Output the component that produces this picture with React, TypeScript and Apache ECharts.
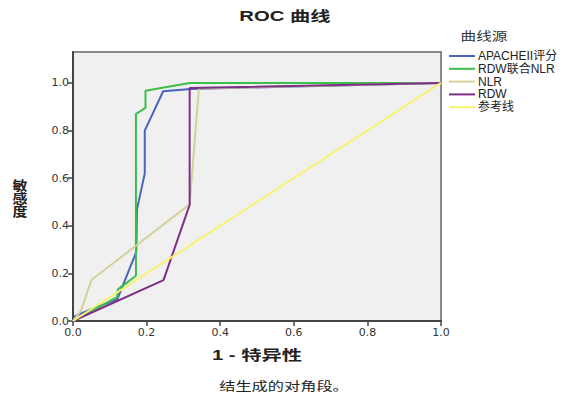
import React, { useEffect, useRef } from "react";
import * as echarts from "echarts";

const seriesNames = ["APACHEII评分", "RDW联合NLR", "NLR", "RDW", "参考线"];
const seriesColors = ["#4a64be", "#3cbf4a", "#d6d09a", "#7e2f86", "#f7f36c"];

const apacheX = [0, 0.005, 0.05, 0.12, 0.172, 0.174, 0.195, 0.195, 0.245, 0.32, 1];
const apacheY = [0, 0.02, 0.05, 0.09, 0.29, 0.47, 0.62, 0.8, 0.965, 0.975, 1];

const comboX = [0, 0.12, 0.122, 0.171, 0.171, 0.197, 0.197, 0.317, 1];
const comboY = [0, 0.1, 0.133, 0.19, 0.87, 0.895, 0.967, 1.0, 1];

const nlrX = [0, 0.022, 0.05, 0.317, 0.342, 1];
const nlrY = [0, 0.045, 0.172, 0.49, 0.977, 1];

const rdwX = [0, 0.246, 0.317, 0.317, 1];
const rdwY = [0, 0.172, 0.488, 0.979, 1];

const refX = [0, 1];
const refY = [0, 1];

const tickValues = [0, 0.2, 0.4, 0.6, 0.8, 1.0];

const allX = [apacheX, comboX, nlrX, rdwX, refX];
const allY = [apacheY, comboY, nlrY, rdwY, refY];

export default function App() {
  const ref = useRef<HTMLDivElement>(null);
  useEffect(() => {
    if (!ref.current) return;
    const chart = echarts.init(ref.current, null, { renderer: "svg" });
    const cjk = "Liberation Sans, Arial, Noto Sans CJK SC, sans-serif";
    chart.setOption({
      animation: false,
      backgroundColor: "#ffffff",
      grid: {
        left: 73,
        right: 131,
        top: 52,
        bottom: 74,
        show: true,
        backgroundColor: "#f0f0f0",
        borderColor: "#8a8a8a",
        borderWidth: 2,
      },
      xAxis: {
        type: "value",
        min: 0,
        max: 1,
        interval: 0.2,
        splitLine: { show: false },
        axisLine: { show: true, onZero: false, lineStyle: { color: "#444", width: 2 } },
        axisTick: { show: true, length: 5, lineStyle: { color: "#444", width: 1.5 } },
        axisLabel: {
          margin: 6,
          color: "#333",
          fontSize: 11,
          fontFamily: "DejaVu Sans, sans-serif",
          formatter: (v: number) => v.toFixed(1),
        },
      },
      yAxis: {
        type: "value",
        min: 0,
        max: 1.13,
        splitLine: { show: false },
        axisLine: { show: true, onZero: false, lineStyle: { color: "#444", width: 2 } },
        axisTick: { show: true, length: 5, customValues: tickValues, lineStyle: { color: "#444", width: 1.5 } },
        axisLabel: {
          margin: 4,
          color: "#333",
          fontSize: 11,
          fontFamily: "DejaVu Sans, sans-serif",
          customValues: tickValues,
          formatter: (v: number) => v.toFixed(1),
        },
      },
      legend: {
        orient: "vertical",
        left: 449,
        top: 50,
        padding: 0,
        itemGap: 0.8,
        itemWidth: 26,
        itemHeight: 2,
        icon: "rect",
        data: seriesNames,
        textStyle: { fontSize: 12, lineHeight: 12, color: "#222", fontFamily: cjk, padding: [0, 0, 0, -2] },
      },
      series: seriesNames.map((name, i) => ({
        name,
        type: "line",
        symbol: "none",
        data: allX[i].map((x, j) => [x, allY[i][j]]),
        lineStyle: { color: seriesColors[i], width: 2 },
        itemStyle: { color: seriesColors[i] },
      })),
      graphic: [
        {
          type: "text",
          x: 285,
          y: 16,
          scaleX: 1.45,
          style: {
            text: "ROC 曲线",
            fontSize: 14,
            fontWeight: "bold",
            fill: "#222",
            fontFamily: cjk,
            textAlign: "center",
            textVerticalAlign: "middle",
          },
        },
        {
          type: "text",
          x: 257,
          y: 355,
          scaleX: 1.45,
          style: {
            text: "1 - 特异性",
            fontSize: 14,
            fontWeight: "bold",
            fill: "#222",
            fontFamily: cjk,
            textAlign: "center",
            textVerticalAlign: "middle",
          },
        },
        {
          type: "text",
          x: 20,
          y: 198,
          scaleX: 1.15,
          style: {
            text: "敏\n感\n度",
            fontSize: 13,
            lineHeight: 13,
            fontWeight: "bold",
            fill: "#222",
            fontFamily: cjk,
            textAlign: "center",
            textVerticalAlign: "middle",
          },
        },
        {
          type: "text",
          x: 484,
          y: 37,
          scaleX: 1.3,
          style: {
            text: "曲线源",
            fontSize: 12,
            fill: "#333",
            fontFamily: cjk,
            textAlign: "center",
            textVerticalAlign: "middle",
          },
        },
        {
          type: "text",
          x: 284,
          y: 387,
          scaleX: 1.35,
          style: {
            text: "结生成的对角段。",
            fontSize: 12,
            fill: "#222",
            fontFamily: cjk,
            textAlign: "center",
            textVerticalAlign: "middle",
          },
        },
      ],
    });
    return () => chart.dispose();
  }, []);
  return <div ref={ref} style={{ width: 572, height: 395, position: "absolute", left: 0, top: 0 }} />;
}
